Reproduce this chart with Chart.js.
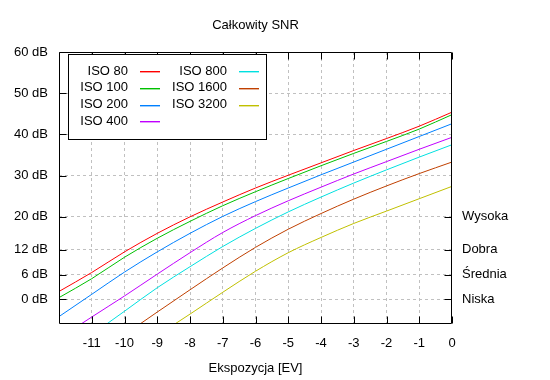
<!DOCTYPE html>
<html><head><meta charset="utf-8">
<script src="https://cdn.jsdelivr.net/npm/chart.js@4/dist/chart.umd.min.js"></script>
<style>html,body{margin:0;padding:0;background:#fff}#wrap{width:550px;height:380px}</style>
</head><body><div id="wrap"><canvas id="c" width="550" height="380"></canvas></div>
<script>
const chartTitle = 'Całkowity SNR';
const xTitle = 'Ekspozycja [EV]';
const ev = [-12, -11, -10, -9, -8, -7, -6, -5, -4, -3, -2, -1, 0];
const seriesNames = ['ISO 80', 'ISO 100', 'ISO 200', 'ISO 400', 'ISO 800', 'ISO 1600', 'ISO 3200'];
const iso80   = [1.9, 6.5, 11.5, 16.0, 20.0, 23.6, 27.0, 30.1, 33.1, 36.1, 39.0, 42.0, 45.4];
const iso100  = [0.4, 5.0, 10.2, 14.8, 18.9, 22.7, 26.1, 29.3, 32.4, 35.4, 38.3, 41.3, 44.8];
const iso200  = [-4.2, 1.2, 6.6, 11.5, 16.0, 20.1, 23.7, 27.0, 30.2, 33.3, 36.4, 39.5, 42.6];
const iso400  = [-9.5, -4.3, 0.8, 6.1, 11.3, 16.2, 20.3, 23.9, 27.2, 30.4, 33.4, 36.4, 39.3];
const iso800  = [null, -8.6, -2.9, 2.8, 7.9, 12.8, 17.2, 21.2, 24.8, 28.2, 31.4, 34.5, 37.5];
const iso1600 = [null, null, -8.6, -3.1, 2.3, 7.6, 12.6, 17.0, 20.8, 24.3, 27.5, 30.5, 33.3];
const iso3200 = [null, null, null, -8.8, -3.6, 1.7, 6.8, 11.3, 15.0, 18.4, 21.4, 24.4, 27.4];
const seriesColors = ['#ff0000', '#00c000', '#0080ff', '#c000ff', '#00e0e0', '#c04000', '#c0c000'];
const xTicks = [-11, -10, -9, -8, -7, -6, -5, -4, -3, -2, -1, 0];
const leftTicks = [0, 6, 12, 20, 30, 40, 50, 60];
const rightTicks = [0, 6, 12, 20];
const rightLabels = ['Niska', 'Średnia', 'Dobra', 'Wysoka'];

const allSeries = [iso80, iso100, iso200, iso400, iso800, iso1600, iso3200];
const FONT = {family: 'Liberation Sans, Arial, sans-serif', size: 13};

const datasets = allSeries.map((arr, i) => ({
  label: seriesNames[i],
  data: ev.map((x, j) => ({x: x, y: arr[j]})).filter(p => p.y !== null),
  borderColor: seriesColors[i],
  backgroundColor: seriesColors[i],
  borderWidth: 1,
  pointRadius: 0,
  fill: false,
  cubicInterpolationMode: 'monotone'
}));

const decor = {
  id: 'decor',
  afterDatasetsDraw(chart) {
    const {ctx, chartArea: a, scales} = chart;
    const L = a.left + 0.5, R = a.right - 0.5, T = a.top + 0.5, B = a.bottom - 0.5;
    ctx.save();
    ctx.strokeStyle = '#000';
    ctx.lineWidth = 1;
    ctx.setLineDash([]);
    ctx.beginPath();
    ctx.rect(L, T, R - L, B - T);
    leftTicks.forEach(v => { const y = Math.round(scales.y.getPixelForValue(v)) + 0.5; ctx.moveTo(L, y); ctx.lineTo(L + 7, y); });
    rightTicks.forEach(v => { const y = Math.round(scales.y2.getPixelForValue(v)) + 0.5; ctx.moveTo(R, y); ctx.lineTo(R - 7, y); });
    xTicks.forEach(v => { const x = Math.round(scales.x.getPixelForValue(v)) + 0.5; ctx.moveTo(x, B); ctx.lineTo(x, B - 7); ctx.moveTo(x, T); ctx.lineTo(x, T + 7); });
    ctx.stroke();

    ctx.fillStyle = '#000';
    ctx.font = `${FONT.size}px ${FONT.family}`;
    ctx.textAlign = 'center';
    ctx.textBaseline = 'middle';
    ctx.fillText(chartTitle, (a.left + a.right) / 2, 25);

    const bx = 68.5, by = 54.5, bw = 198, bh = 85;
    ctx.fillStyle = '#fff';
    ctx.fillRect(bx, by, bw, bh);
    ctx.strokeStyle = '#000';
    ctx.strokeRect(bx, by, bw, bh);
    ctx.textAlign = 'right';
    seriesNames.forEach((name, i) => {
      const col = i < 4 ? 0 : 1;
      const row = i < 4 ? i : i - 4;
      const tx = col === 0 ? 128 : 227;
      const y = 71 + row * 16.8;
      ctx.fillStyle = '#000';
      ctx.fillText(name, tx, y);
      const ly = Math.round(y);
      ctx.fillStyle = seriesColors[i];
      ctx.fillRect(tx + 12, ly, 20, 1.4);
    });
    ctx.restore();
  }
};

new Chart(document.getElementById('c'), {
  type: 'line',
  data: {datasets},
  options: {
    responsive: false,
    animation: false,
    devicePixelRatio: 1,
    layout: {padding: {top: 52, left: 0, right: 0, bottom: 0}},
    plugins: {legend: {display: false}, title: {display: false}, tooltip: {enabled: false}},
    scales: {
      x: {
        type: 'linear', min: -12, max: 0,
        afterBuildTicks: s => { s.ticks = xTicks.map(v => ({value: v})); },
        afterFit: s => { s.height = 56; },
        ticks: {font: FONT, color: '#000', padding: 12, maxRotation: 0, autoSkip: false},
        grid: {color: '#c0c0c0', drawTicks: false, lineWidth: c => (c.tick && c.tick.value === 0) ? 0 : 1},
        border: {display: false, dash: [3, 3]},
        title: {display: true, text: xTitle, font: FONT, color: '#000', padding: {top: 0, bottom: 4}}
      },
      y: {
        type: 'linear', position: 'left', min: -6, max: 60,
        afterBuildTicks: s => { s.ticks = leftTicks.map(v => ({value: v})); },
        afterFit: s => { s.width = 59; },
        ticks: {font: FONT, color: '#000', padding: 11, callback: v => v + ' dB'},
        grid: {color: '#c0c0c0', drawTicks: false, lineWidth: c => (c.tick && c.tick.value === 60) ? 0 : 1},
        border: {display: false, dash: [3, 3]}
      },
      y2: {
        type: 'linear', position: 'right', min: -6, max: 60,
        afterBuildTicks: s => { s.ticks = rightTicks.map(v => ({value: v})); },
        afterFit: s => { s.width = 98; },
        ticks: {font: FONT, color: '#000', padding: 10, callback: v => rightLabels[rightTicks.indexOf(v)]},
        grid: {drawOnChartArea: false, drawTicks: false},
        border: {display: false}
      }
    }
  },
  plugins: [decor]
});
</script>
</body></html>
